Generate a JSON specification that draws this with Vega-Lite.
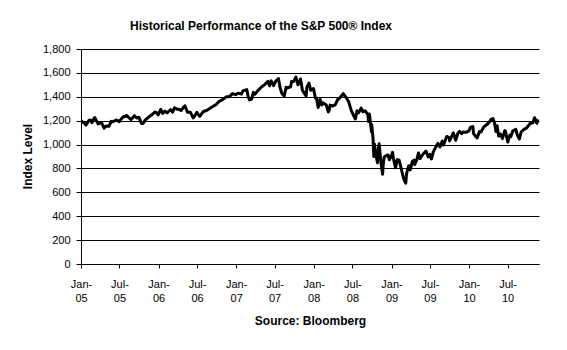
{
  "$schema": "https://vega.github.io/schema/vega-lite/v6.json",
  "width": 458,
  "height": 215,
  "autosize": {"type": "none"},
  "padding": {"left": 81, "top": 49, "right": 28, "bottom": 86},
  "background": "white",
  "title": {
    "text": "Historical Performance of the S&P 500® Index",
    "font": "Liberation Sans, Arial",
    "fontSize": 12,
    "fontWeight": "bold",
    "color": "black",
    "anchor": "middle",
    "frame": "group",
    "dx": -49,
    "offset": 10
  },
  "config": {
    "view": {"stroke": null},
    "axis": {
      "labelFont": "Liberation Sans, Arial",
      "titleFont": "Liberation Sans, Arial",
      "labelFontSize": 11,
      "labelColor": "black",
      "titleColor": "black",
      "titleFontSize": 12,
      "titleFontWeight": "bold",
      "domainColor": "black",
      "tickColor": "black",
      "gridColor": "black",
      "gridOpacity": 1,
      "gridWidth": 1,
      "domainWidth": 1,
      "tickWidth": 1
    }
  },
  "data": {
    "values": [
      {"date": "2005-01-03", "v": 1202}, {"date": "2005-01-07", "v": 1186}, {"date": "2005-01-14", "v": 1184}, {"date": "2005-01-24", "v": 1163}, {"date": "2005-01-31", "v": 1181},
      {"date": "2005-02-07", "v": 1202}, {"date": "2005-02-14", "v": 1206}, {"date": "2005-02-22", "v": 1184}, {"date": "2005-03-04", "v": 1222}, {"date": "2005-03-07", "v": 1225},
      {"date": "2005-03-15", "v": 1198}, {"date": "2005-03-23", "v": 1172}, {"date": "2005-03-31", "v": 1181}, {"date": "2005-04-08", "v": 1182}, {"date": "2005-04-20", "v": 1138},
      {"date": "2005-04-29", "v": 1156}, {"date": "2005-05-13", "v": 1154}, {"date": "2005-05-23", "v": 1194}, {"date": "2005-05-31", "v": 1191}, {"date": "2005-06-15", "v": 1206},
      {"date": "2005-06-23", "v": 1201}, {"date": "2005-06-30", "v": 1191}, {"date": "2005-07-08", "v": 1212}, {"date": "2005-07-20", "v": 1235}, {"date": "2005-07-29", "v": 1234},
      {"date": "2005-08-03", "v": 1245}, {"date": "2005-08-12", "v": 1230}, {"date": "2005-08-25", "v": 1209}, {"date": "2005-09-09", "v": 1241}, {"date": "2005-09-20", "v": 1222},
      {"date": "2005-09-30", "v": 1229}, {"date": "2005-10-13", "v": 1177}, {"date": "2005-10-20", "v": 1177}, {"date": "2005-10-31", "v": 1207}, {"date": "2005-11-15", "v": 1230},
      {"date": "2005-11-30", "v": 1249}, {"date": "2005-12-14", "v": 1272}, {"date": "2005-12-22", "v": 1268}, {"date": "2005-12-30", "v": 1248},
      {"date": "2006-01-11", "v": 1294}, {"date": "2006-01-20", "v": 1261}, {"date": "2006-01-31", "v": 1280}, {"date": "2006-02-10", "v": 1266}, {"date": "2006-02-27", "v": 1292},
      {"date": "2006-03-08", "v": 1272}, {"date": "2006-03-17", "v": 1307}, {"date": "2006-03-31", "v": 1295}, {"date": "2006-04-07", "v": 1295}, {"date": "2006-04-17", "v": 1285},
      {"date": "2006-04-28", "v": 1311}, {"date": "2006-05-05", "v": 1325}, {"date": "2006-05-17", "v": 1270}, {"date": "2006-05-31", "v": 1270}, {"date": "2006-06-13", "v": 1223},
      {"date": "2006-06-22", "v": 1245}, {"date": "2006-06-30", "v": 1270}, {"date": "2006-07-14", "v": 1236}, {"date": "2006-07-31", "v": 1277}, {"date": "2006-08-15", "v": 1285},
      {"date": "2006-08-31", "v": 1304}, {"date": "2006-09-15", "v": 1320}, {"date": "2006-09-29", "v": 1336}, {"date": "2006-10-13", "v": 1362}, {"date": "2006-10-31", "v": 1378},
      {"date": "2006-11-17", "v": 1401}, {"date": "2006-11-30", "v": 1401}, {"date": "2006-12-15", "v": 1427}, {"date": "2006-12-29", "v": 1418},
      {"date": "2007-01-12", "v": 1430}, {"date": "2007-01-26", "v": 1422}, {"date": "2007-02-02", "v": 1449}, {"date": "2007-02-20", "v": 1460}, {"date": "2007-02-27", "v": 1400},
      {"date": "2007-03-05", "v": 1374}, {"date": "2007-03-14", "v": 1378}, {"date": "2007-03-23", "v": 1437}, {"date": "2007-03-30", "v": 1421}, {"date": "2007-04-13", "v": 1452},
      {"date": "2007-04-30", "v": 1482}, {"date": "2007-05-15", "v": 1502}, {"date": "2007-05-31", "v": 1530}, {"date": "2007-06-07", "v": 1491}, {"date": "2007-06-15", "v": 1533},
      {"date": "2007-06-26", "v": 1493}, {"date": "2007-07-06", "v": 1530}, {"date": "2007-07-19", "v": 1553}, {"date": "2007-07-26", "v": 1482}, {"date": "2007-08-03", "v": 1433},
      {"date": "2007-08-15", "v": 1406}, {"date": "2007-08-24", "v": 1479}, {"date": "2007-08-31", "v": 1474}, {"date": "2007-09-14", "v": 1484}, {"date": "2007-09-19", "v": 1529},
      {"date": "2007-09-28", "v": 1527}, {"date": "2007-10-09", "v": 1565}, {"date": "2007-10-19", "v": 1500}, {"date": "2007-10-31", "v": 1549}, {"date": "2007-11-09", "v": 1453},
      {"date": "2007-11-26", "v": 1407}, {"date": "2007-11-30", "v": 1481}, {"date": "2007-12-10", "v": 1515}, {"date": "2007-12-18", "v": 1454}, {"date": "2007-12-31", "v": 1468},
      {"date": "2008-01-09", "v": 1390}, {"date": "2008-01-15", "v": 1380}, {"date": "2008-01-22", "v": 1310}, {"date": "2008-01-31", "v": 1378}, {"date": "2008-02-08", "v": 1331},
      {"date": "2008-02-15", "v": 1349}, {"date": "2008-02-29", "v": 1331}, {"date": "2008-03-10", "v": 1273}, {"date": "2008-03-14", "v": 1288}, {"date": "2008-03-18", "v": 1330},
      {"date": "2008-03-31", "v": 1323}, {"date": "2008-04-11", "v": 1332}, {"date": "2008-04-22", "v": 1375}, {"date": "2008-04-30", "v": 1386}, {"date": "2008-05-19", "v": 1426},
      {"date": "2008-05-30", "v": 1400}, {"date": "2008-06-13", "v": 1360}, {"date": "2008-06-27", "v": 1278}, {"date": "2008-07-15", "v": 1214}, {"date": "2008-07-23", "v": 1282},
      {"date": "2008-07-31", "v": 1267}, {"date": "2008-08-11", "v": 1305}, {"date": "2008-08-20", "v": 1275}, {"date": "2008-08-29", "v": 1283}, {"date": "2008-09-12", "v": 1252},
      {"date": "2008-09-15", "v": 1193}, {"date": "2008-09-19", "v": 1255}, {"date": "2008-09-29", "v": 1106}, {"date": "2008-09-30", "v": 1166}, {"date": "2008-10-06", "v": 1056},
      {"date": "2008-10-10", "v": 899}, {"date": "2008-10-13", "v": 1003}, {"date": "2008-10-16", "v": 946}, {"date": "2008-10-22", "v": 896}, {"date": "2008-10-27", "v": 848},
      {"date": "2008-10-28", "v": 941}, {"date": "2008-10-31", "v": 968}, {"date": "2008-11-04", "v": 1006}, {"date": "2008-11-12", "v": 853}, {"date": "2008-11-20", "v": 752},
      {"date": "2008-11-24", "v": 852}, {"date": "2008-11-28", "v": 896}, {"date": "2008-12-08", "v": 909}, {"date": "2008-12-16", "v": 913}, {"date": "2008-12-22", "v": 872},
      {"date": "2008-12-31", "v": 903},
      {"date": "2009-01-06", "v": 935}, {"date": "2009-01-09", "v": 890}, {"date": "2009-01-20", "v": 805}, {"date": "2009-01-28", "v": 874}, {"date": "2009-02-06", "v": 869},
      {"date": "2009-02-17", "v": 790}, {"date": "2009-02-23", "v": 743}, {"date": "2009-03-02", "v": 700}, {"date": "2009-03-09", "v": 677}, {"date": "2009-03-13", "v": 757},
      {"date": "2009-03-23", "v": 823}, {"date": "2009-03-30", "v": 788}, {"date": "2009-04-09", "v": 857}, {"date": "2009-04-17", "v": 870}, {"date": "2009-04-20", "v": 832},
      {"date": "2009-04-30", "v": 873}, {"date": "2009-05-08", "v": 930}, {"date": "2009-05-15", "v": 883}, {"date": "2009-05-29", "v": 919}, {"date": "2009-06-12", "v": 946},
      {"date": "2009-06-23", "v": 896}, {"date": "2009-06-30", "v": 919}, {"date": "2009-07-08", "v": 880}, {"date": "2009-07-17", "v": 941}, {"date": "2009-07-31", "v": 987},
      {"date": "2009-08-07", "v": 1010}, {"date": "2009-08-17", "v": 980}, {"date": "2009-08-28", "v": 1029}, {"date": "2009-09-02", "v": 995}, {"date": "2009-09-18", "v": 1068},
      {"date": "2009-09-30", "v": 1057}, {"date": "2009-10-01", "v": 1030}, {"date": "2009-10-19", "v": 1098}, {"date": "2009-10-30", "v": 1036}, {"date": "2009-11-09", "v": 1093},
      {"date": "2009-11-17", "v": 1110}, {"date": "2009-11-27", "v": 1092}, {"date": "2009-12-04", "v": 1106}, {"date": "2009-12-18", "v": 1102}, {"date": "2009-12-31", "v": 1115},
      {"date": "2010-01-08", "v": 1145}, {"date": "2010-01-19", "v": 1150}, {"date": "2010-01-22", "v": 1092}, {"date": "2010-01-29", "v": 1074}, {"date": "2010-02-08", "v": 1056},
      {"date": "2010-02-19", "v": 1109}, {"date": "2010-02-26", "v": 1105}, {"date": "2010-03-12", "v": 1150}, {"date": "2010-03-26", "v": 1167}, {"date": "2010-04-09", "v": 1194},
      {"date": "2010-04-15", "v": 1211}, {"date": "2010-04-23", "v": 1217}, {"date": "2010-04-30", "v": 1187}, {"date": "2010-05-06", "v": 1128}, {"date": "2010-05-07", "v": 1110},
      {"date": "2010-05-13", "v": 1157}, {"date": "2010-05-20", "v": 1071}, {"date": "2010-05-25", "v": 1074}, {"date": "2010-05-28", "v": 1089}, {"date": "2010-06-04", "v": 1064},
      {"date": "2010-06-07", "v": 1050}, {"date": "2010-06-18", "v": 1117}, {"date": "2010-06-21", "v": 1113}, {"date": "2010-07-02", "v": 1022}, {"date": "2010-07-12", "v": 1079},
      {"date": "2010-07-16", "v": 1065}, {"date": "2010-07-26", "v": 1115}, {"date": "2010-08-09", "v": 1127}, {"date": "2010-08-16", "v": 1080}, {"date": "2010-08-26", "v": 1047},
      {"date": "2010-09-03", "v": 1105}, {"date": "2010-09-15", "v": 1125}, {"date": "2010-09-30", "v": 1141}, {"date": "2010-10-15", "v": 1176}, {"date": "2010-10-29", "v": 1183},
      {"date": "2010-11-05", "v": 1225}, {"date": "2010-11-12", "v": 1200}, {"date": "2010-11-16", "v": 1178}, {"date": "2010-11-19", "v": 1199}, {"date": "2010-11-26", "v": 1189}
    ]
  },
  "mark": {"type": "line", "color": "black", "strokeWidth": 3, "strokeJoin": "round", "clip": true},
  "encoding": {
    "x": {
      "field": "date",
      "type": "temporal",
      "scale": {
        "type": "utc",
        "domain": [{"year": 2005, "month": 1, "date": 1, "utc": true}, {"year": 2010, "month": 11, "date": 26, "utc": true}]
      },
      "axis": {
        "title": "Source: Bloomberg",
        "values": [
          {"year": 2005, "month": 1, "date": 1, "utc": true}, {"year": 2005, "month": 7, "date": 1, "utc": true},
          {"year": 2006, "month": 1, "date": 1, "utc": true}, {"year": 2006, "month": 7, "date": 1, "utc": true},
          {"year": 2007, "month": 1, "date": 1, "utc": true}, {"year": 2007, "month": 7, "date": 1, "utc": true},
          {"year": 2008, "month": 1, "date": 1, "utc": true}, {"year": 2008, "month": 7, "date": 1, "utc": true},
          {"year": 2009, "month": 1, "date": 1, "utc": true}, {"year": 2009, "month": 7, "date": 1, "utc": true},
          {"year": 2010, "month": 1, "date": 1, "utc": true}, {"year": 2010, "month": 7, "date": 1, "utc": true}
        ],
        "labelExpr": "[utcFormat(datum.value, '%b') + '-', utcFormat(datum.value, '%y')]",
        "labelLineHeight": 14,
        "labelBaseline": "top",
        "labelDx": -6,
        "labelPadding": 10,
        "labelFlush": false,
        "labelOverlap": false,
        "tickSize": 4,
        "grid": false,
        "titlePadding": 12
      }
    },
    "y": {
      "field": "v",
      "type": "quantitative",
      "scale": {"domain": [0, 1800], "nice": false, "zero": true},
      "axis": {
        "title": "Index Level",
        "values": [0, 200, 400, 600, 800, 1000, 1200, 1400, 1600, 1800],
        "format": ",.0f",
        "tickSize": 5,
        "labelPadding": 6,
        "grid": true,
        "titleX": -54,
        "titleY": 107,
        "titleAlign": "center",
        "titleBaseline": "middle",
        "titleAngle": 270
      }
    }
  }
}
